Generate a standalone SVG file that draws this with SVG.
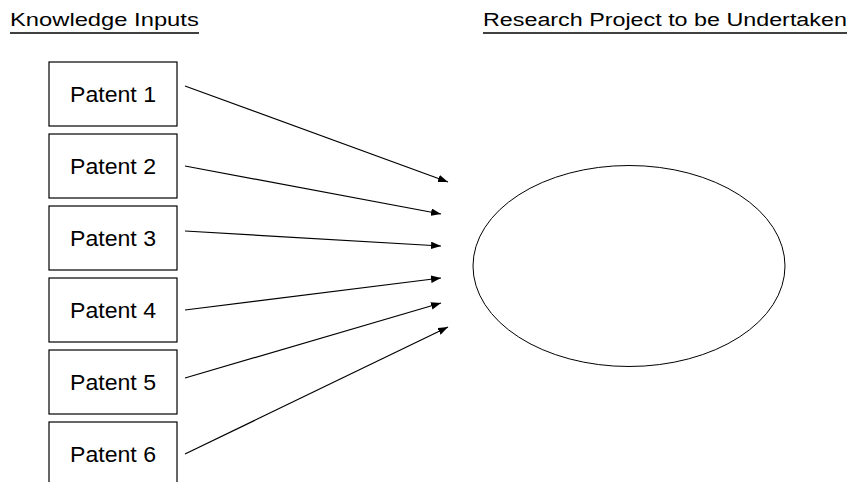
<svg xmlns="http://www.w3.org/2000/svg" width="849" height="482" viewBox="0 0 849 482">
<style>
.box{fill:#fff;stroke:#000;stroke-width:1.2}
.lbl{font-family:"Liberation Sans",Arial,sans-serif;font-size:22px;fill:#000;text-anchor:middle}
.hdr{font-family:"Liberation Sans",Arial,sans-serif;font-size:19px;fill:#000}
.ul{stroke:#000;stroke-width:1.6}
.conn{stroke:#000;stroke-width:1.2;fill:none;marker-end:url(#ah)}
</style>
<defs>
<marker id="ah" markerUnits="userSpaceOnUse" markerWidth="11" markerHeight="8" refX="10" refY="3.75" orient="auto">
<path d="M0,0 L10,3.75 L0,7.5 z" fill="#000"/>
</marker>
</defs>
<rect width="849" height="482" fill="#fff"/>
<g id="header-inputs">
<text class="hdr" transform="translate(10,26) scale(1.25,1)" x="0" y="0">Knowledge Inputs</text>
<line class="ul" x1="10" y1="33" x2="199" y2="33"/>
</g>
<g id="header-project">
<text class="hdr" transform="translate(483,26) scale(1.227,1)" x="0" y="0">Research Project to be Undertaken</text>
<line class="ul" x1="483" y1="33" x2="847" y2="33"/>
</g>
<g id="patent1"><rect class="box" x="49" y="62" width="128" height="64"/><text class="lbl" x="113" y="102" textLength="86" lengthAdjust="spacingAndGlyphs">Patent 1</text></g>
<g id="patent2"><rect class="box" x="49" y="134" width="128" height="64"/><text class="lbl" x="113" y="174" textLength="86" lengthAdjust="spacingAndGlyphs">Patent 2</text></g>
<g id="patent3"><rect class="box" x="49" y="206" width="128" height="64"/><text class="lbl" x="113" y="246" textLength="86" lengthAdjust="spacingAndGlyphs">Patent 3</text></g>
<g id="patent4"><rect class="box" x="49" y="278" width="128" height="64"/><text class="lbl" x="113" y="318" textLength="86" lengthAdjust="spacingAndGlyphs">Patent 4</text></g>
<g id="patent5"><rect class="box" x="49" y="350" width="128" height="64"/><text class="lbl" x="113" y="390" textLength="86" lengthAdjust="spacingAndGlyphs">Patent 5</text></g>
<g id="patent6"><rect class="box" x="49" y="422" width="128" height="66"/><text class="lbl" x="113" y="462" textLength="86" lengthAdjust="spacingAndGlyphs">Patent 6</text></g>
<g id="project"><ellipse cx="629" cy="266" rx="156" ry="100.5" fill="#fff" stroke="#000" stroke-width="1"/></g>
<g id="connectors">
<line class="conn" x1="185" y1="86" x2="448" y2="182"/>
<line class="conn" x1="185" y1="166" x2="441" y2="214"/>
<line class="conn" x1="185" y1="231" x2="441" y2="246"/>
<line class="conn" x1="185" y1="310" x2="441" y2="278"/>
<line class="conn" x1="185" y1="378" x2="441" y2="303"/>
<line class="conn" x1="185" y1="454" x2="448" y2="327"/>
</g>
</svg>
